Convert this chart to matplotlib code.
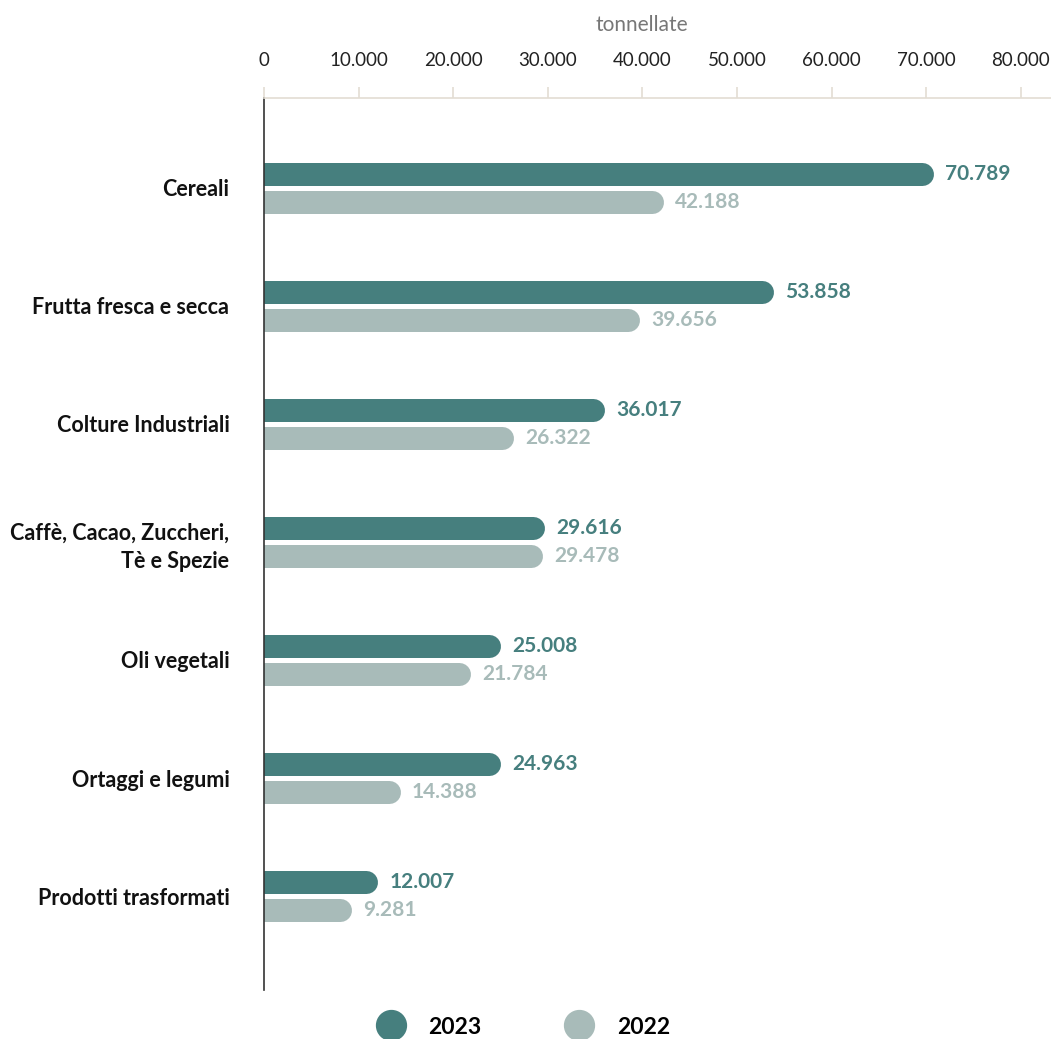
import matplotlib.pyplot as plt
from matplotlib.lines import Line2D
import numpy as np

# ── Dati ──────────────────────────────────────────────────────────────────────
categorie = [
    "Cereali",
    "Frutta fresca e secca",
    "Colture Industriali",
    "Caffè, Cacao, Zuccheri,\nTè e Spezie",
    "Oli vegetali",
    "Ortaggi e legumi",
    "Prodotti trasformati",
]
valori_2023 = [70789, 53858, 36017, 29616, 25008, 24963, 12007]
valori_2022 = [42188, 39656, 26322, 29478, 21784, 14388, 9281]
tick_x = [0, 10000, 20000, 30000, 40000, 50000, 60000, 70000, 80000]

COL_2023 = "#467f7e"
COL_2022 = "#a8bbb9"
COL_GRIGLIA = "#e3ddd3"

plt.rcParams["font.family"] = ["Lato", "DejaVu Sans"]


def fmt(v):
    return f"{v:,}".replace(",", ".")


fig = plt.figure(figsize=(10.51, 10.39), dpi=100)
ax = fig.add_axes([264 / 1051, 1 - 990 / 1039, 1 - 264 / 1051, (990 - 98) / 1039])

ax.set_xlim(0, 83190)
ax.set_ylim(6 + 94 / 118, -90 / 118)

# raggio del bordo arrotondato in unità dati
px_unit = ax.transData.transform((1000, 0))[0] - ax.transData.transform((0, 0))[0]
px_unit /= 1000
alt_px = 23
r_dati = (alt_px / 2) / px_unit
lw = alt_px * 72 / fig.dpi
off = 14 / 118

y = np.arange(len(categorie))
for serie, col, dy in [(valori_2023, COL_2023, -off), (valori_2022, COL_2022, off)]:
    for yi, v in zip(y, serie):
        ax.plot([-r_dati, v - r_dati], [yi + dy, yi + dy], color=col, lw=lw,
                solid_capstyle="round", zorder=2)
        ax.annotate(fmt(v), xy=(v, yi + dy), xytext=(8.5, 0), textcoords="offset points",
                    va="center", ha="left", fontsize=15, fontweight="bold", color=col)

# assi
ax.xaxis.tick_top()
ax.xaxis.set_label_position("top")
ax.set_xticks(tick_x)
ax.set_xticklabels([fmt(t) for t in tick_x], fontsize=13.5, color="#222222")
ax.tick_params(axis="x", length=8, color=COL_GRIGLIA, width=1.2, pad=13)
ax.set_xlabel("tonnellate", fontsize=15, color="#777777")
ax.xaxis.set_label_coords((642 - 264) / 787, 1 + (98 - 25) / 892)
ax.xaxis.label.set_va("center")

ax.set_yticks(y)
ax.set_yticklabels(categorie, fontsize=15.5, fontweight="bold", color="#111111",
                   linespacing=1.4)
ax.tick_params(axis="y", length=0, pad=25)

for s in ["right", "bottom"]:
    ax.spines[s].set_visible(False)
ax.spines["top"].set_color(COL_GRIGLIA)
ax.spines["top"].set_linewidth(1.2)
ax.spines["left"].set_color("#333333")
ax.spines["left"].set_linewidth(1.2)
ax.xaxis.get_major_ticks()[0].tick2line.set_color("#333333")

# legenda
handles = [
    Line2D([], [], marker="o", ls="none", markersize=21.5, color=COL_2023, label="2023"),
    Line2D([], [], marker="o", ls="none", markersize=21.5, color=COL_2022, label="2022"),
]
leg = fig.legend(handles=handles, loc="center", bbox_to_anchor=(519 / 1051, 1 - 1027 / 1039),
                 ncol=2, frameon=False, handletextpad=0.65, columnspacing=3.25,
                 prop={"size": 16.5, "weight": "bold"})

fig.savefig("out.png", dpi=100)
